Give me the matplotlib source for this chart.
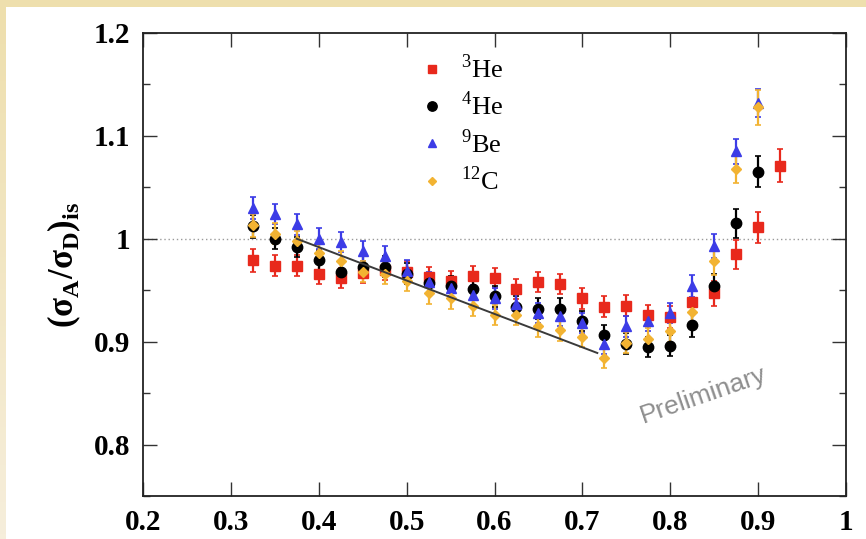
import matplotlib
matplotlib.use("Agg")
import matplotlib.pyplot as plt
import numpy as np
from matplotlib.ticker import MultipleLocator, FuncFormatter
from matplotlib.patches import Rectangle
from matplotlib.lines import Line2D

# x-Bjorken bins
x_he4 = [0.325, 0.35, 0.375, 0.4, 0.425, 0.45, 0.475, 0.5, 0.525, 0.55, 0.575, 0.6,
         0.625, 0.65, 0.675, 0.7, 0.725, 0.75, 0.775, 0.8, 0.825, 0.85, 0.875, 0.9]
x_he3 = x_he4 + [0.925]

# cross section ratios (isoscalar corrected)
r_he3 = [0.979, 0.974, 0.974, 0.966, 0.962, 0.967, 0.970, 0.968, 0.963, 0.959, 0.964, 0.962,
         0.951, 0.958, 0.956, 0.942, 0.934, 0.935, 0.926, 0.924, 0.939, 0.947, 0.985, 1.011, 1.071]
r_he4 = [1.012, 1.000, 0.992, 0.979, 0.968, 0.973, 0.973, 0.966, 0.957, 0.954, 0.951, 0.944,
         0.934, 0.932, 0.932, 0.920, 0.906, 0.898, 0.895, 0.896, 0.916, 0.954, 1.015, 1.065]
r_be9 = [1.030, 1.024, 1.014, 1.000, 0.997, 0.988, 0.983, 0.969, 0.958, 0.952, 0.945, 0.942,
         0.937, 0.928, 0.925, 0.918, 0.898, 0.915, 0.920, 0.928, 0.954, 0.993, 1.085, 1.132]
r_c12 = [1.013, 1.005, 0.998, 0.986, 0.978, 0.968, 0.966, 0.959, 0.947, 0.942, 0.935, 0.926,
         0.926, 0.915, 0.911, 0.905, 0.884, 0.899, 0.903, 0.910, 0.929, 0.978, 1.068, 1.128]

# errors
e_he3 = [0.011, 0.010, 0.010, 0.010, 0.010, 0.010, 0.010, 0.010, 0.010, 0.010, 0.010, 0.010,
         0.010, 0.010, 0.010, 0.010, 0.010, 0.010, 0.010, 0.011, 0.011, 0.012, 0.014, 0.015, 0.016]
e_he4 = [0.011, 0.010, 0.010, 0.010, 0.010, 0.010, 0.010, 0.010, 0.010, 0.010, 0.010, 0.010,
         0.010, 0.010, 0.010, 0.010, 0.010, 0.010, 0.010, 0.010, 0.011, 0.012, 0.014, 0.015]
e_be9 = [0.011, 0.010, 0.010, 0.010, 0.010, 0.010, 0.010, 0.010, 0.010, 0.010, 0.010, 0.010,
         0.010, 0.010, 0.010, 0.010, 0.010, 0.010, 0.010, 0.010, 0.011, 0.012, 0.012, 0.014]
e_c12 = [0.011, 0.010, 0.010, 0.010, 0.010, 0.010, 0.010, 0.010, 0.010, 0.010, 0.010, 0.010,
         0.010, 0.010, 0.010, 0.010, 0.010, 0.010, 0.010, 0.010, 0.011, 0.013, 0.014, 0.017]

# linear fit of the EMC slope region
fit_x = [0.375, 0.717]
fit_y = [1.000, 0.889]

labels = [r"$^\mathrm{3}$He", r"$^\mathrm{4}$He", r"$^\mathrm{9}$Be", r"$^\mathrm{12}$C"]
colors = ["#e8291c", "#000000", "#3c3ce6", "#f2b332"]
markers = ["s", "o", "^", "D"]
msizes = [7, 7.5, 7, 4.8]

plt.rcParams["mathtext.fontset"] = "custom"
plt.rcParams["mathtext.rm"] = "Liberation Serif"
plt.rcParams["mathtext.bf"] = "Liberation Serif:bold"

fig = plt.figure(figsize=(8.66, 5.39), dpi=100)
fig.patch.set_facecolor("white")

# beige slide frame (top and left strips)
fig.patches.append(Rectangle((0, 1 - 7 / 539), 1, 7 / 539, transform=fig.transFigure,
                             facecolor="#eedfad", edgecolor="none"))
band = fig.add_axes([0, 0, 6 / 866, 1 - 7 / 539])
grad = np.linspace(0, 1, 100).reshape(-1, 1)
band.imshow(grad, aspect="auto", cmap=matplotlib.colors.LinearSegmentedColormap.from_list(
    "beige", ["#eedfad", "#f6eedb"]), extent=[0, 1, 0, 1])
band.axis("off")

ax = fig.add_axes([143 / 866, 1 - 496 / 539, 703 / 866, 463 / 539])

series = [(x_he3, r_he3, e_he3), (x_he4, r_he4, e_he4), (x_he4, r_be9, e_be9),
          (x_he4, r_c12, e_c12)]
for (xs, ys, es), c, m, ms in zip(series, colors, markers, msizes):
    ax.errorbar(xs, ys, yerr=es, fmt=m, color=c, ms=ms, mec=c, elinewidth=1.6,
                capsize=2.5, capthick=1.2, zorder=3)

ax.plot(fit_x, fit_y, color="#3a3a3a", lw=1.4, zorder=4)
ax.axhline(1.0, color="#9a9a9a", lw=1.0, ls=(0, (1, 2)), zorder=1)

ax.text(0.838, 0.848, "Preliminary", family="Liberation Sans", fontsize=19,
        color="#8e8e8e", rotation=19, ha="center", va="center")

ax.set_xlim(0.2, 1.0)
ax.set_ylim(0.75, 1.2)
ax.xaxis.set_major_locator(MultipleLocator(0.1))
ax.yaxis.set_major_locator(MultipleLocator(0.1))
ax.yaxis.set_minor_locator(MultipleLocator(0.05))
fmt = FuncFormatter(lambda v, p: "%g" % round(v, 2))
ax.xaxis.set_major_formatter(fmt)
ax.yaxis.set_major_formatter(fmt)
ax.tick_params(which="both", direction="in", top=True, right=True, color="#333333")
ax.tick_params(which="major", length=10, width=1.0, pad=9)
ax.tick_params(which="minor", length=5, width=1.0)
for lab in ax.get_xticklabels() + ax.get_yticklabels():
    lab.set_family("Liberation Serif")
    lab.set_fontweight("bold")
    lab.set_fontsize(21)
for sp in ax.spines.values():
    sp.set_linewidth(1.3)
    sp.set_color("#222222")

ax.set_ylabel(r"(σ$_\mathbf{A}$/σ$_\mathbf{D}$)$_\mathbf{is}$", family="Liberation Serif",
              fontweight="bold", fontsize=25, labelpad=8)

handles = [Line2D([], [], marker=m, color=c, ls="none", ms=ms * 0.9)
           for c, m, ms in zip(colors, markers, msizes)]
leg = ax.legend(handles, labels, loc="upper left", bbox_to_anchor=(0.355, 1.005), frameon=False,
                prop={"family": "Liberation Serif", "size": 19}, labelspacing=0.33,
                handletextpad=0.5, handlelength=1.2)

fig.savefig("out.png", dpi=100)
